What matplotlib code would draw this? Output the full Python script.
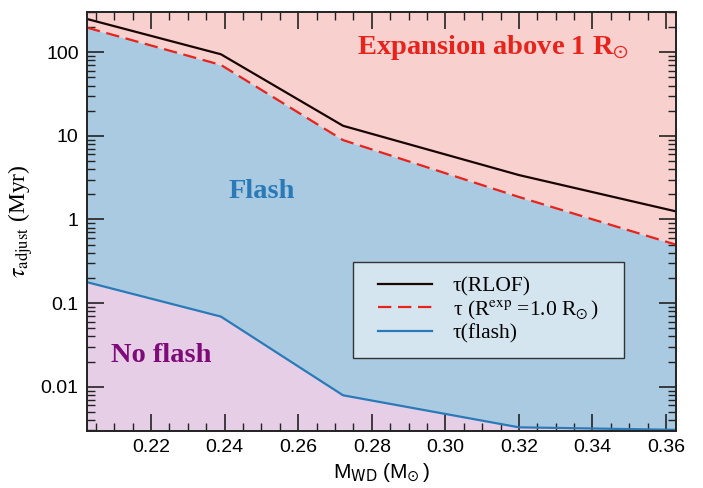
import numpy as np
import matplotlib
matplotlib.use("Agg")
import matplotlib.pyplot as plt
from matplotlib.patches import Rectangle
from matplotlib.ticker import MultipleLocator, LogLocator, FixedLocator, FixedFormatter, NullFormatter

# White-dwarf masses of the model sequence (Msun)
m_wd = [0.2026, 0.2390, 0.2722, 0.3200, 0.3627]
# Time to Roche-lobe overflow (Myr)
tau_rlof = [250.0, 94.6, 13.2, 3.4, 1.25]
# Time to expand beyond 1 Rsun (Myr)
tau_exp = [197.0, 70.5, 8.9, 1.86, 0.50]
# Time to the hydrogen flash (Myr)
tau_flash = [0.178, 0.069, 0.0079, 0.00327, 0.00305]

x_ticks = [0.22, 0.24, 0.26, 0.28, 0.30, 0.32, 0.34, 0.36]
x_tick_labels = ["0.22", "0.24", "0.26", "0.28", "0.30", "0.32", "0.34", "0.36"]
y_ticks = [0.01, 0.1, 1, 10, 100]
y_tick_labels = ["0.01", "0.1", "1", "10", "100"]

serif = ["Liberation Serif", "DejaVu Serif"]
sans = ["Liberation Sans", "DejaVu Sans"]

W, H = 703, 488
fig = plt.figure(figsize=(W / 100, H / 100), dpi=100)
ax_l, ax_r, ax_t, ax_b = 87, 676, 12, 430.7
ax = fig.add_axes([ax_l / W, (H - ax_b) / H, (ax_r - ax_l) / W, (ax_b - ax_t) / H])


def axfrac(px, py):
    """Pixel position in the figure -> axes fraction."""
    return (px - ax_l) / (ax_r - ax_l), (ax_b - py) / (ax_b - ax_t)


ylo, yhi = 0.00298, 303.0
ax.set_xlim(0.2026, 0.3627)
ax.set_yscale("log")
ax.set_ylim(ylo, yhi)

# Shaded regimes
ax.fill_between(m_wd, tau_exp, yhi, color="#f8d1cf", lw=0)
ax.fill_between(m_wd, tau_flash, tau_exp, color="#aacae2", lw=0)
ax.fill_between(m_wd, ylo, tau_flash, color="#e6cfe6", lw=0)

l1, = ax.plot(m_wd, tau_rlof, color="#1a0505", lw=1.6, label=r"τ(RLOF)")
l2, = ax.plot(m_wd, tau_exp, color="#e8231c", lw=1.6, ls=(0, (6, 3)),
              label=r"τ (R$^{\rm exp}$ =1.0 R$\!_\odot$)")
l3, = ax.plot(m_wd, tau_flash, color="#2a7ab8", lw=1.6, label=r"τ(flash)")

# Region labels
ax.text(*axfrac(493, 48), r"Expansion above 1 R$\!_\odot$", transform=ax.transAxes,
        color="#e8231c", fontsize=20.5, fontweight="bold", family=serif,
        math_fontfamily="stix", va="center", ha="center")
ax.text(*axfrac(229, 192), "Flash", transform=ax.transAxes, color="#2a7ab8",
        fontsize=20.5, fontweight="bold", family=serif, va="center", ha="left")
ax.text(*axfrac(111, 355), "No flash", transform=ax.transAxes, color="#7f0b7a",
        fontsize=20.5, fontweight="bold", family=serif, va="center", ha="left")

# Ticks
ax.xaxis.set_major_locator(FixedLocator(x_ticks))
ax.xaxis.set_major_formatter(FixedFormatter(x_tick_labels))
ax.xaxis.set_minor_locator(MultipleLocator(0.005))
ax.yaxis.set_major_locator(FixedLocator(y_ticks))
ax.yaxis.set_major_formatter(FixedFormatter(y_tick_labels))
ax.yaxis.set_minor_locator(LogLocator(base=10, subs=np.arange(2, 10)))
ax.yaxis.set_minor_formatter(NullFormatter())
ax.tick_params(which="both", direction="in", top=True, right=True, color="#222222")
ax.tick_params(which="major", length=12, width=1.2, labelsize=14, pad=6)
ax.tick_params(which="minor", length=6, width=1.0)
for lab in ax.get_xticklabels() + ax.get_yticklabels():
    lab.set_family(sans)
for sp in ax.spines.values():
    sp.set_color("#222222")
    sp.set_linewidth(1.4)

ax.set_xlabel(r"M$_{\rm WD}$ (M$\!_\odot$)", fontsize=15, family=sans,
              math_fontfamily="dejavusans", labelpad=4)
ax.set_ylabel(r"$\tau_{\rm adjust}$ (Myr)", fontsize=17, family=serif,
              math_fontfamily="stix", labelpad=4)

# Legend box
bx0, by0 = axfrac(353, 358)
bx1, by1 = axfrac(624, 261.7)
ax.add_patch(Rectangle((bx0, by0), bx1 - bx0, by1 - by0, transform=ax.transAxes,
                       facecolor="#d4e5f0", edgecolor="#333333", lw=1.0, zorder=5))
leg = ax.legend(handles=[l1, l2, l3], loc="center left",
                bbox_to_anchor=axfrac(378, 310), frameon=False,
                prop={"family": serif, "size": 15.5},
                handlelength=2.5, handletextpad=0.98, borderpad=0,
                labelspacing=0.1, borderaxespad=0)
leg.set_zorder(6)
for t in leg.get_texts():
    t.set_math_fontfamily("stix")

fig.savefig("out.png", dpi=100)
